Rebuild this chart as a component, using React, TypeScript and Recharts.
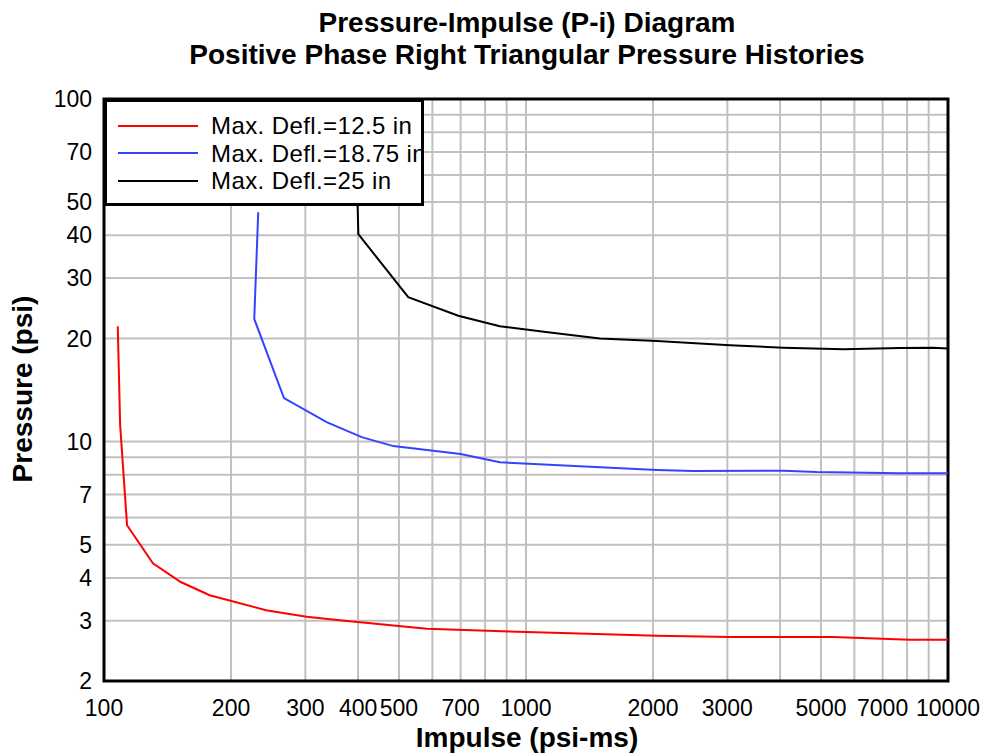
import React from "react";
import {
  LineChart,
  Line,
  XAxis,
  YAxis,
  CartesianGrid,
  ReferenceArea,
  Legend,
} from "recharts";

// ---- data ----
const xGridTicks = [100, 200, 300, 400, 500, 600, 700, 800, 900, 1000, 2000, 3000, 4000, 5000, 6000, 7000, 8000, 9000, 10000];
const xTickLabels = [100, 200, 300, 400, 500, 700, 1000, 2000, 3000, 5000, 7000, 10000];
const yGridTicks = [2, 3, 4, 5, 6, 7, 8, 9, 10, 20, 30, 40, 50, 60, 70, 80, 90, 100];
const yTickLabels = [2, 3, 4, 5, 7, 10, 20, 30, 40, 50, 70, 100];

const redImpulse = [107.8, 109.2, 113.4, 130.6, 152, 178, 242, 302, 362, 582, 1004, 2042, 3044, 5345, 8130, 10000];
const redPressure = [21.7, 11.2, 5.7, 4.41, 3.89, 3.56, 3.22, 3.08, 3.01, 2.84, 2.78, 2.71, 2.69, 2.69, 2.64, 2.64];

const blueImpulse = [232, 227, 267, 337, 408, 485, 700, 867, 2042, 2492, 4074, 4887, 7690, 10000];
const bluePressure = [46.7, 22.8, 13.4, 11.4, 10.3, 9.7, 9.2, 8.7, 8.26, 8.2, 8.22, 8.15, 8.08, 8.08];

const blackImpulse = [398, 400.6, 526, 691, 867, 1140, 1497, 2042, 3044, 4074, 5650, 7690, 9226, 10000];
const blackPressure = [55, 40.3, 26.4, 23.3, 21.7, 20.8, 20.0, 19.65, 19.1, 18.8, 18.6, 18.75, 18.8, 18.7];

const seriesNames = ["Max. Defl.=12.5 in", "Max. Defl.=18.75 in", "Max. Defl.=25 in"];
const seriesColors = ["#ff0000", "#3344ff", "#000000"];

const toPoints = (xs: number[], ys: number[]) => xs.map((x, i) => ({ x, y: ys[i] }));
const redData = toPoints(redImpulse, redPressure);
const blueData = toPoints(blueImpulse, bluePressure);
const blackData = toPoints(blackImpulse, blackPressure);

const FONT = "Arial, 'Liberation Sans', sans-serif";

const LegendBox = () => (
  <div
    style={{
      width: 320,
      height: 107,
      boxSizing: "border-box",
      background: "#fff",
      border: "3px solid #000",
      paddingTop: 10,
      overflow: "hidden",
      fontFamily: FONT,
    }}
  >
    {seriesNames.map((n, i) => (
      <div key={n} style={{ display: "flex", alignItems: "center", height: 27.5 }}>
        <div style={{ marginLeft: 11, width: 80, height: 2, flex: "0 0 80px", background: seriesColors[i] }} />
        <span style={{ marginLeft: 13, fontSize: 24, letterSpacing: 0.4, color: "#000", whiteSpace: "nowrap", lineHeight: "27px" }}>{n}</span>
      </div>
    ))}
  </div>
);

export default function App() {
  return (
    <div style={{ position: "absolute", left: 0, top: 0, width: 992, height: 756, background: "#fff", fontFamily: FONT }}>
      <LineChart width={992} height={756} margin={{ top: 99, right: 44, bottom: 0, left: 0 }}>
        <CartesianGrid stroke="#c0c0c0" strokeWidth={2} />
        <XAxis
          type="number"
          dataKey="x"
          scale="log"
          domain={[100, 10000]}
          allowDataOverflow
          ticks={xGridTicks}
          interval={0}
          tickFormatter={(v: number) => (xTickLabels.includes(v) ? String(v) : "")}
          tickLine={false}
          tickSize={0}
          tickMargin={19}
          height={75}
          axisLine={false}
          tick={{ fill: "#000", fontSize: 23 }}
        />
        <YAxis
          type="number"
          dataKey="y"
          scale="log"
          domain={[2, 100]}
          allowDataOverflow
          ticks={yGridTicks}
          interval={0}
          tickFormatter={(v: number) => (yTickLabels.includes(v) ? String(v) : "")}
          tickLine={false}
          tickSize={0}
          tickMargin={12}
          width={104}
          axisLine={false}
          tick={{ fill: "#000", fontSize: 23 }}
        />
        <Line data={redData} dataKey="y" name={seriesNames[0]} stroke={seriesColors[0]} strokeWidth={2} dot={false} type="linear" isAnimationActive={false} />
        <Line data={blueData} dataKey="y" name={seriesNames[1]} stroke={seriesColors[1]} strokeWidth={2} dot={false} type="linear" isAnimationActive={false} />
        <Line data={blackData} dataKey="y" name={seriesNames[2]} stroke={seriesColors[2]} strokeWidth={2} dot={false} type="linear" isAnimationActive={false} />
        <ReferenceArea x1={100} x2={10000} y1={2} y2={100} fill="none" fillOpacity={0} stroke="#000" strokeWidth={3} ifOverflow="visible" />
        <Legend
          layout="horizontal"
          verticalAlign="middle"
          align="center"
          content={() => <LegendBox />}
          wrapperStyle={{ left: 104, top: 99, width: 320, height: 107 }}
        />
      </LineChart>
      <svg width={992} height={756} style={{ position: "absolute", left: 0, top: 0, pointerEvents: "none" }}>
        <g fontFamily={FONT} fontWeight="bold" fontSize={28} fill="#000" textAnchor="middle">
          <text x={527} y={32}>Pressure-Impulse (P-i) Diagram</text>
          <text x={527} y={64}>Positive Phase Right Triangular Pressure Histories</text>
          <text x={527} y={747}>Impulse (psi-ms)</text>
          <text x={-389} y={32} transform="rotate(-90)">Pressure (psi)</text>
        </g>
      </svg>
    </div>
  );
}
